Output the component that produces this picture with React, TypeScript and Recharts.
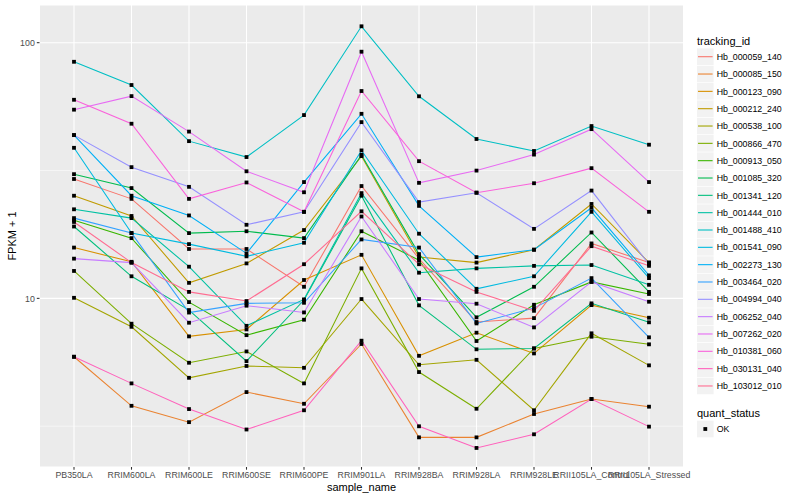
import { LineChart, Line, XAxis, YAxis, CartesianGrid } from "recharts";

const categories = [
  "PB350LA",
  "RRIM600LA",
  "RRIM600LE",
  "RRIM600SE",
  "RRIM600PE",
  "RRIM901LA",
  "RRIM928BA",
  "RRIM928LA",
  "RRIM928LE",
  "RRII105LA_Control",
  "RRII105LA_Stressed",
];

const trackingIds = [
  "Hb_000059_140",
  "Hb_000085_150",
  "Hb_000123_090",
  "Hb_000212_240",
  "Hb_000538_100",
  "Hb_000866_470",
  "Hb_000913_050",
  "Hb_001085_320",
  "Hb_001341_120",
  "Hb_001444_010",
  "Hb_001488_410",
  "Hb_001541_090",
  "Hb_002273_130",
  "Hb_003464_020",
  "Hb_004994_040",
  "Hb_006252_040",
  "Hb_007262_020",
  "Hb_010381_060",
  "Hb_030131_040",
  "Hb_103012_010",
];

const colors = [
  "#F8766D", "#EA8331", "#D89000", "#C09B00", "#A3A500",
  "#7CAE00", "#39B600", "#00BB4E", "#00BF7D", "#00C1A3",
  "#00BFC4", "#00BAE0", "#00B0F6", "#35A2FF", "#9590FF",
  "#C77CFF", "#E76BF3", "#FA62DB", "#FF62BC", "#FF6C91",
];

// FPKM + 1 per sample, in the order of `categories`
const hb000059 = [29.3, 24.5, 15.6, 15.6, 11.1, 27.5, 14.3, 8.08, 8.37, 16.4, 13.8];
const hb000085 = [5.91, 3.8, 3.28, 4.3, 3.87, 6.63, 2.86, 2.86, 3.53, 4.04, 3.77];
const hb000123 = [15.8, 13.9, 7.1, 7.56, 11.8, 14.8, 5.96, 7.34, 6.09, 9.41, 8.4];
const hb000212 = [25.2, 21.0, 11.5, 13.7, 18.5, 36.0, 14.5, 13.8, 15.5, 23.4, 13.8];
const hb000538 = [10.05, 7.74, 4.89, 5.44, 5.35, 9.94, 5.5, 5.75, 3.65, 7.3, 5.47];
const hb000866 = [12.8, 7.96, 5.6, 6.2, 4.65, 13.1, 5.15, 3.7, 6.37, 7.08, 6.61];
const hb000913 = [20.2, 17.2, 9.67, 7.18, 8.25, 18.3, 14.1, 6.81, 9.44, 11.6, 10.4];
const hb001085 = [30.6, 27.0, 18.0, 18.3, 17.2, 36.4, 14.9, 8.43, 11.1, 18.1, 10.6];
const hb001341 = [19.1, 12.2, 9.0, 5.68, 9.85, 25.2, 9.39, 6.32, 6.37, 9.56, 8.06];
const hb001444 = [22.3, 20.6, 13.3, 7.81, 9.91, 25.8, 12.6, 13.1, 13.4, 13.5, 11.3];
const hb001488 = [84.2, 68.3, 41.2, 35.7, 52.1, 115.9, 61.7, 42.0, 37.7, 47.2, 39.9];
const hb001541 = [38.8, 18.0, 16.3, 14.6, 16.5, 37.9, 17.9, 10.9, 12.2, 21.8, 12.0];
const hb002273 = [43.5, 25.2, 21.1, 15.0, 28.5, 52.7, 23.0, 14.5, 15.5, 22.6, 12.3];
const hb003464 = [20.6, 18.0, 8.8, 9.56, 9.61, 17.0, 15.8, 7.98, 9.16, 12.0, 7.04];
const hb004994 = [43.5, 32.6, 27.3, 19.4, 21.8, 48.9, 23.8, 25.9, 18.7, 26.4, 13.6];
const hb006252 = [14.3, 13.8, 8.03, 9.36, 8.81, 20.9, 9.94, 9.53, 7.7, 11.6, 9.7];
const hb007262 = [54.7, 61.8, 44.9, 31.4, 26.0, 92.2, 28.3, 31.6, 36.5, 45.9, 28.5];
const hb010381 = [59.8, 48.2, 24.5, 28.4, 21.8, 64.7, 34.4, 25.9, 28.2, 32.3, 21.8];
const hb030131 = [5.91, 4.65, 3.69, 3.07, 3.65, 6.83, 3.16, 2.6, 2.94, 4.04, 3.15];
const hb103012 = [19.9, 13.8, 10.6, 9.76, 13.6, 21.9, 13.6, 10.6, 8.94, 16.0, 13.4];

const seriesValues = [
  hb000059, hb000085, hb000123, hb000212, hb000538,
  hb000866, hb000913, hb001085, hb001341, hb001444,
  hb001488, hb001541, hb002273, hb003464, hb004994,
  hb006252, hb007262, hb010381, hb030131, hb103012,
];

const yTicks = [10, 100];
const yMinor = [3.162, 31.62];

const rows = categories.map((name, i) => {
  const row: Record<string, number | string> = { idx: i, name };
  trackingIds.forEach((id, s) => {
    row[id] = seriesValues[s][i];
  });
  return row;
});

const FONT = "'Liberation Sans', Arial, Helvetica, sans-serif";

const XTick = (props: any) => {
  const { x, y, payload } = props;
  return (
    <text x={x} y={y} dy="0.71em" textAnchor="middle" fontSize={8.8} fill="#4D4D4D" fontFamily={FONT}>
      {categories[payload.value]}
    </text>
  );
};

const YTick = (props: any) => {
  const { x, y, payload } = props;
  return (
    <text x={x} y={y} dy="0.36em" textAnchor="end" fontSize={8.8} fill="#4D4D4D" fontFamily={FONT}>
      {payload.value}
    </text>
  );
};

const SquareDot = (props: any) => {
  const { cx, cy, index } = props;
  if (cx == null || cy == null) return <g key={index} />;
  return <rect key={index} x={cx - 1.9} y={cy - 1.9} width={3.8} height={3.8} fill="#000" />;
};

function Legend() {
  return (
    <svg width={110} height={500} style={{ position: "absolute", left: 690, top: 0 }}>
      <text x={7} y={40.7} dy="0.36em" fontSize={11} fontFamily={FONT} fill="#000">
        tracking_id
      </text>
      {trackingIds.map((id, i) => {
        const cy = 56.7 + i * 17.33;
        return (
          <g key={id}>
            <rect x={7} y={cy - 8.3} width={16.6} height={16.6} fill="#F2F2F2" />
            <line x1={8} x2={22.6} y1={cy} y2={cy} stroke={colors[i]} strokeWidth={1.1} />
            <text x={26.7} y={cy} dy="0.36em" fontSize={8.8} fontFamily={FONT} fill="#000">
              {id}
            </text>
          </g>
        );
      })}
      <text x={7} y={412.7} dy="0.36em" fontSize={11} fontFamily={FONT} fill="#000">
        quant_status
      </text>
      <rect x={7} y={420.7} width={16.6} height={16.6} fill="#F2F2F2" />
      <rect x={13.4} y={427.1} width={3.8} height={3.8} fill="#000" />
      <text x={26.7} y={429} dy="0.36em" fontSize={8.8} fontFamily={FONT} fill="#000">
        OK
      </text>
    </svg>
  );
}

export default function App() {
  return (
    <div style={{ position: "absolute", left: 0, top: 0, width: 800, height: 500, background: "#fff" }}>
      <LineChart
        width={800}
        height={500}
        data={rows}
        margin={{ top: 5, right: 116.5, bottom: 0, left: 0 }}
      >
        <CartesianGrid fill="#EBEBEB" stroke="#FFFFFF" strokeWidth={1.07} />
        <CartesianGrid
          fill="none"
          stroke="#FFFFFF"
          strokeWidth={0.53}
          vertical={false}
          horizontalValues={yMinor}
        />
        <XAxis
          dataKey="idx"
          type="number"
          domain={[-0.6, 10.6]}
          allowDataOverflow
          ticks={categories.map((_, i) => i)}
          interval={0}
          height={33}
          axisLine={false}
          tickSize={2.7}
          tickMargin={2}
          tickLine={{ stroke: "#333333", strokeWidth: 1.07 }}
          tick={<XTick />}
        />
        <YAxis
          type="number"
          scale="log"
          domain={[2.19, 140.4]}
          allowDataOverflow
          ticks={yTicks}
          width={39.5}
          axisLine={false}
          tickSize={2.7}
          tickMargin={2}
          tickLine={{ stroke: "#333333", strokeWidth: 1.07 }}
          tick={<YTick />}
        />
        {trackingIds.map((id, i) => (
          <Line
            key={id}
            dataKey={id}
            type="linear"
            stroke={colors[i]}
            strokeWidth={1.07}
            dot={false}
            activeDot={false}
            isAnimationActive={false}
          />
        ))}
        {trackingIds.map((id) => (
          <Line
            key={id + "_pts"}
            dataKey={id}
            type="linear"
            stroke="none"
            dot={SquareDot}
            activeDot={false}
            legendType="none"
            isAnimationActive={false}
          />
        ))}
      </LineChart>
      <div
        style={{
          position: "absolute",
          left: 361.5,
          top: 487,
          transform: "translate(-50%, -50%)",
          fontFamily: FONT,
          fontSize: 11,
          color: "#000",
          whiteSpace: "nowrap",
        }}
      >
        sample_name
      </div>
      <div
        style={{
          position: "absolute",
          left: 12,
          top: 236,
          transform: "translate(-50%, -50%) rotate(-90deg)",
          fontFamily: FONT,
          fontSize: 11,
          color: "#000",
          whiteSpace: "nowrap",
        }}
      >
        FPKM + 1
      </div>
      <Legend />
    </div>
  );
}
